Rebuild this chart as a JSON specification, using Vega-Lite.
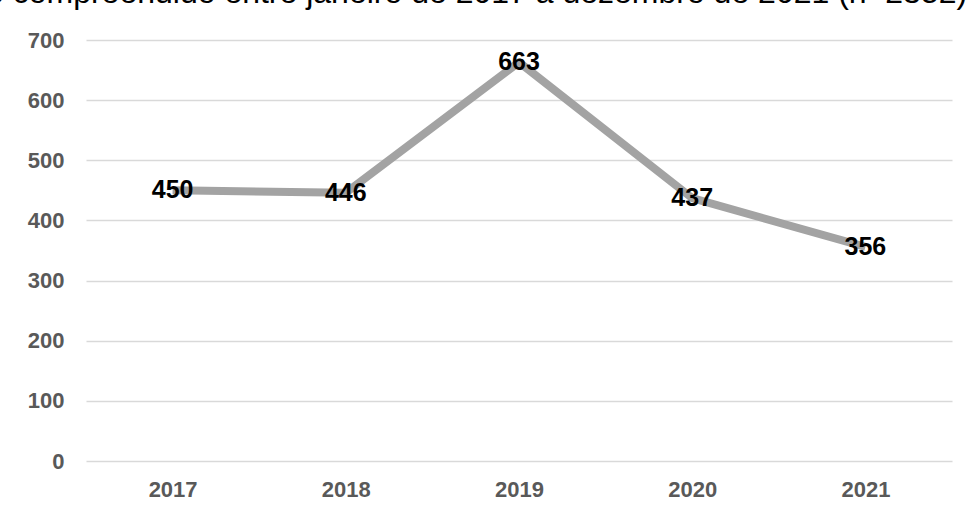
{
  "$schema": "https://vega.github.io/schema/vega-lite/v6.json",
  "width": 866,
  "height": 421,
  "autosize": {"type": "none"},
  "padding": {"left": 86, "top": 40, "right": 15, "bottom": 51},
  "background": "white",
  "title": {
    "text": "e compreendido entre janeiro de 2017 a dezembro de 2021 (n=2352)",
    "anchor": "start",
    "frame": "group",
    "dx": -100,
    "dy": 6,
    "offset": 0,
    "baseline": "alphabetic",
    "font": "Liberation Sans",
    "fontSize": 32,
    "fontWeight": "normal",
    "color": "#000000"
  },
  "data": {
    "values": [
      {"ano": "2017", "casos": 450},
      {"ano": "2018", "casos": 446},
      {"ano": "2019", "casos": 663},
      {"ano": "2020", "casos": 437},
      {"ano": "2021", "casos": 356}
    ]
  },
  "encoding": {
    "x": {
      "field": "ano",
      "type": "ordinal",
      "scale": {"type": "point", "padding": 0.5},
      "axis": {
        "title": null,
        "labelAngle": 0,
        "domain": false,
        "ticks": false,
        "labelPadding": 18,
        "labelFont": "Liberation Sans",
        "labelFontSize": 22,
        "labelFontWeight": "bold",
        "labelColor": "#595959"
      }
    },
    "y": {
      "field": "casos",
      "type": "quantitative",
      "scale": {"domain": [0, 700], "nice": false},
      "axis": {
        "title": null,
        "values": [0, 100, 200, 300, 400, 500, 600, 700],
        "domain": false,
        "ticks": false,
        "labelPadding": 22,
        "labelFont": "Liberation Sans",
        "labelFontSize": 22,
        "labelFontWeight": "bold",
        "labelColor": "#595959",
        "gridColor": "#d9d9d9",
        "gridWidth": 1.5
      }
    }
  },
  "layer": [
    {
      "mark": {"type": "line", "color": "#a3a3a3", "strokeWidth": 8, "strokeJoin": "round", "strokeCap": "butt"}
    },
    {
      "mark": {"type": "text", "font": "Liberation Sans", "fontSize": 25, "fontWeight": "bold", "color": "#000000", "align": "center", "baseline": "middle"},
      "encoding": {"text": {"field": "casos", "type": "quantitative"}}
    }
  ],
  "config": {"view": {"stroke": null}}
}
